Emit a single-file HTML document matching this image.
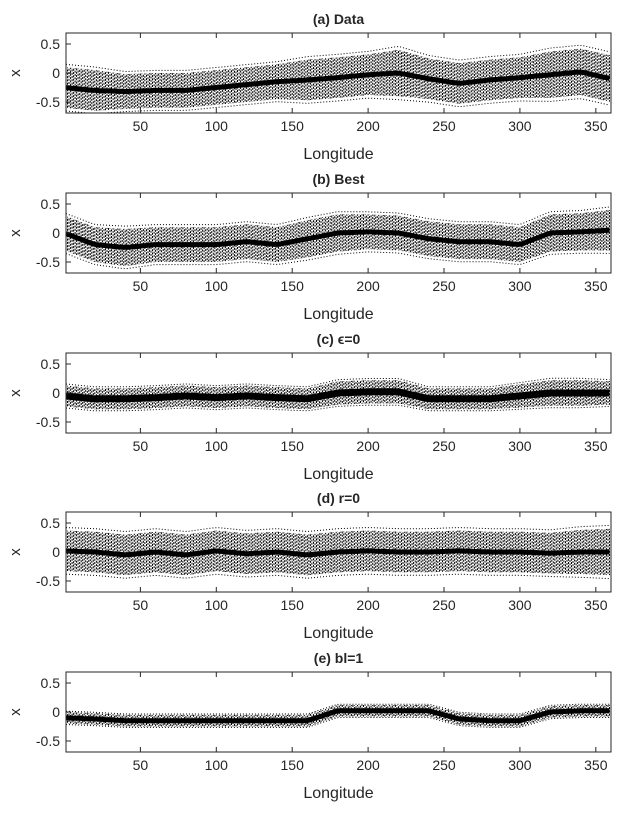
<!DOCTYPE html>
<html><head><meta charset="utf-8"><style>
body{margin:0;background:#fff}
svg text{font-family:"Liberation Sans",sans-serif;fill:#262626}
</style></head><body>
<svg id="fig" width="623" height="818" viewBox="0 0 623 818" xmlns="http://www.w3.org/2000/svg"></svg>
<script>
const lonSamples=[0,20,40,60,80,100,120,140,160,180,200,220,240,260,280,300,320,340,360];
const meanA=[-0.25,-0.3,-0.32,-0.3,-0.3,-0.25,-0.2,-0.15,-0.12,-0.08,-0.03,0.0,-0.1,-0.18,-0.12,-0.08,-0.03,0.02,-0.1];
const spreadA=[0.35,0.35,0.3,0.3,0.3,0.3,0.3,0.3,0.35,0.35,0.35,0.4,0.35,0.35,0.35,0.35,0.4,0.4,0.4];
const meanB=[0.0,-0.2,-0.25,-0.2,-0.2,-0.2,-0.15,-0.2,-0.1,0.0,0.02,0.0,-0.1,-0.15,-0.15,-0.2,0.0,0.02,0.05];
const spreadB=[0.3,0.3,0.32,0.3,0.3,0.3,0.3,0.3,0.32,0.32,0.3,0.3,0.3,0.3,0.3,0.3,0.32,0.32,0.35];
const meanC=[-0.05,-0.1,-0.1,-0.08,-0.05,-0.08,-0.05,-0.08,-0.1,0.0,0.02,0.02,-0.1,-0.1,-0.1,-0.05,0.0,0.0,0.0];
const spreadC=[0.18,0.18,0.18,0.18,0.18,0.18,0.18,0.18,0.18,0.2,0.2,0.2,0.18,0.18,0.18,0.2,0.22,0.22,0.2];
const meanD=[0.02,0.0,-0.05,0.0,-0.05,0.02,-0.03,0.0,-0.05,0.0,0.02,0.0,0.0,0.02,0.0,0.0,-0.02,0.0,0.0];
const spreadD=[0.35,0.35,0.35,0.35,0.35,0.35,0.35,0.35,0.35,0.35,0.35,0.35,0.35,0.35,0.35,0.35,0.35,0.38,0.4];
const meanE=[-0.1,-0.12,-0.15,-0.15,-0.15,-0.15,-0.15,-0.15,-0.15,0.02,0.02,0.02,0.02,-0.12,-0.15,-0.15,0.0,0.02,0.02];
const spreadE=[0.1,0.1,0.1,0.1,0.1,0.1,0.1,0.1,0.1,0.1,0.1,0.1,0.1,0.1,0.1,0.1,0.1,0.1,0.1];
const xTicks=[50,100,150,200,250,300,350];
const yTicks=[0.5,0,-0.5];
const yTickLabels=["0.5","0","-0.5"];
const titles=["(a) Data","(b) Best","(c) \u03F5=0","(d) r=0","(e) bl=1"];
const panelTops=[33,193,353,512,672];
const means=[meanA,meanB,meanC,meanD,meanE];
const spreads=[spreadA,spreadB,spreadC,spreadD,spreadE];

const NS="http://www.w3.org/2000/svg";
const svg=document.getElementById('fig');
const L=66,R=611,H=80;
function mk(tag,attrs,parent){const e=document.createElementNS(NS,tag);for(const k in attrs)e.setAttribute(k,attrs[k]);(parent||svg).appendChild(e);return e;}
function interp(arr,lon){const i=Math.min(Math.floor(lon/20),17);const t=(lon-lonSamples[i])/20;return arr[i]*(1-t)+arr[i+1]*t;}
panelTops.forEach((T,p)=>{
  const xs=v=>L+(v-1)/359*(R-L);
  const ys=v=>T+H/2-v/0.69*(H/2);
  const g=mk('g',{});
  
  
  const clip=mk('clipPath',{id:'c'+p},g);mk('rect',{x:L,y:T,width:R-L,height:H},clip);
  const plot=mk('g',{'clip-path':'url(#c'+p+')'},g);
  const offs=[0,1.3,2.1,0.6,1.8,2.7,0.9];
  for(let k=0;k<offs.length;k++){
    let d='';
    for(let lon=1+k;lon<=360;lon+=offs.length){const m=interp(means[p],lon),s=interp(spreads[p],lon);d+=`M${xs(lon).toFixed(1)},${ys(m+s).toFixed(1)}V${ys(m-s).toFixed(1)}`;}
    const sp=mk('path',{d:d,stroke:'#000','stroke-width':1,'stroke-dasharray':'2,1.3','stroke-dashoffset':offs[k],fill:'none'},plot);
    
    
  }
  let up='',lo='';
  for(let lon=1;lon<=360;lon+=2){const m=interp(means[p],lon),s=interp(spreads[p],lon);up+=(lon==1?'M':'L')+xs(lon).toFixed(1)+','+ys(m+s*1.15).toFixed(1);lo+=(lon==1?'M':'L')+xs(lon).toFixed(1)+','+ys(m-s*1.15).toFixed(1);}
  mk('path',{d:up+lo,stroke:'#000','stroke-width':1,'stroke-dasharray':'1,2',fill:'none'},plot);
  let md='';
  for(let lon=1;lon<=360;lon+=2){md+=(lon==1?'M':'L')+xs(lon).toFixed(1)+','+ys(interp(means[p],lon)).toFixed(1);}
  const ml=mk('path',{d:md,stroke:'#000','stroke-width':p==2?7:5,fill:'none'},plot);
  
  
  const box=mk('rect',{x:L,y:T,width:R-L,height:H,fill:'none',stroke:'#262626','stroke-width':1},g);
  
  
  xTicks.forEach(v=>{const x=xs(v);mk('line',{x1:x,x2:x,y1:T,y2:T+5,stroke:'#262626'},g);mk('line',{x1:x,x2:x,y1:T+H,y2:T+H-5,stroke:'#262626'},g);
    const t=mk('text',{x:x,y:T+H+18,'font-size':14,'text-anchor':'middle'},g);t.textContent=v;
    
    });
  yTicks.forEach((v,i)=>{const y=ys(v);mk('line',{x1:L,x2:L+5,y1:y,y2:y,stroke:'#262626'},g);
    const t=mk('text',{x:L-6,y:y+5,'font-size':14,'text-anchor':'end'},g);t.textContent=yTickLabels[i];
    
    });
  const tt=mk('text',{x:(L+R)/2,y:T-9,'font-size':14,'font-weight':'bold','text-anchor':'middle'},g);tt.textContent=titles[p];
  
  
  const xl=mk('text',{x:(L+R)/2,y:T+H+46,'font-size':16,'text-anchor':'middle'},g);xl.textContent='Longitude';
  
  
  const yl=mk('text',{x:0,y:0,'font-size':15,'text-anchor':'middle',transform:`translate(20,${T+H/2}) rotate(-90)`},g);yl.textContent='x';
  
  
});
</script>
</body></html>
